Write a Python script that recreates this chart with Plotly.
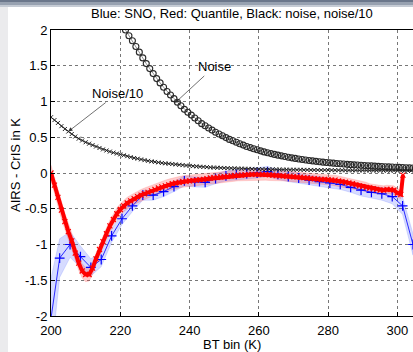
import plotly.graph_objects as go

# ---------------- data ----------------
red_x = list(range(200, 302)) + [301.6]
red_y = [0.0, -0.17, -0.34, -0.52, -0.68, -0.82, -0.95, -1.12, -1.26, -1.37,
         -1.42, -1.42, -1.33, -1.2, -1.07, -0.96, -0.85, -0.74, -0.65, -0.57,
         -0.51, -0.46, -0.42, -0.39, -0.36, -0.33, -0.31, -0.29, -0.27, -0.25,
         -0.23, -0.21, -0.195, -0.18, -0.165, -0.15, -0.14, -0.13, -0.12, -0.115,
         -0.11, -0.105, -0.1, -0.095, -0.09, -0.08, -0.07, -0.065, -0.06, -0.055,
         -0.05, -0.045, -0.04, -0.035, -0.03, -0.03, -0.025, -0.02, -0.02, -0.02,
         -0.02, -0.02, -0.02, -0.025, -0.03, -0.035, -0.04, -0.04, -0.045, -0.05,
         -0.05, -0.055, -0.06, -0.065, -0.07, -0.075, -0.08, -0.085, -0.09, -0.09,
         -0.095, -0.1, -0.1, -0.11, -0.12, -0.13, -0.14, -0.15, -0.165, -0.18,
         -0.19, -0.2, -0.21, -0.22, -0.23, -0.24, -0.24, -0.23, -0.23, -0.24,
         -0.28, -0.30, -0.03]
red_err = [0.11, 0.11, 0.12, 0.12, 0.12, 0.12, 0.11, 0.1, 0.1, 0.1,
           0.1, 0.09, 0.09, 0.08, 0.08, 0.08, 0.08, 0.08, 0.08, 0.08,
           0.08, 0.08, 0.08, 0.08, 0.08, 0.08, 0.08, 0.08, 0.08, 0.08,
           0.08, 0.08, 0.08, 0.08, 0.08, 0.08, 0.08, 0.08, 0.08, 0.08,
           0.08, 0.08, 0.08, 0.08, 0.08, 0.08, 0.08, 0.08, 0.08, 0.08,
           0.08, 0.08, 0.08, 0.08, 0.08, 0.08, 0.08, 0.08, 0.08, 0.08,
           0.08, 0.08, 0.08, 0.08, 0.08, 0.08, 0.07, 0.07, 0.07, 0.07,
           0.07, 0.07, 0.07, 0.07, 0.07, 0.07, 0.07, 0.07, 0.07, 0.07,
           0.07, 0.07, 0.07, 0.07, 0.07, 0.07, 0.07, 0.07, 0.07, 0.07,
           0.07, 0.07, 0.06, 0.06, 0.06, 0.06, 0.06, 0.06, 0.06, 0.06,
           0.06, 0.06, 0.04]

blue_x = [199.5, 202.5, 205.5, 208.5, 211.5, 214.5, 217.5, 220.5, 223.5, 226.5,
          229.5, 232.5, 235.5, 238.5, 241.5, 244.5, 247.5, 250.5, 253.5, 256.5,
          259.5, 262.5, 265.5, 268.5, 271.5, 274.5, 277.5, 280.5, 283.5, 286.5,
          289.5, 292.5, 295.5, 298.5, 301.5, 304.5]
blue_y = [-2.2, -1.19, -1.0, -1.17, -1.32, -1.21, -0.88, -0.64, -0.46, -0.31,
          -0.31, -0.26, -0.19, -0.11, -0.125, -0.13, -0.08, -0.04, -0.02, -0.01,
          0.0, 0.02, -0.02, -0.05, -0.07, -0.10, -0.12, -0.14, -0.16, -0.2,
          -0.24, -0.27, -0.29, -0.33, -0.46, -1.0]
blue_err = [0.62, 0.27, 0.18, 0.15, 0.12, 0.1, 0.09, 0.08, 0.08, 0.07,
            0.07, 0.07, 0.07, 0.07, 0.07, 0.07, 0.07, 0.07, 0.07, 0.07,
            0.07, 0.07, 0.07, 0.07, 0.07, 0.07, 0.07, 0.07, 0.07, 0.07,
            0.08, 0.08, 0.09, 0.1, 0.12, 0.15]

noise_x = [221.5 + i for i in range(84)]
noise_y = [2.0, 1.92, 1.85, 1.77, 1.69, 1.61, 1.53, 1.46, 1.39, 1.32,
           1.26, 1.2, 1.14, 1.09, 1.04, 0.99, 0.94, 0.89, 0.85, 0.81,
           0.77, 0.73, 0.69, 0.66, 0.63, 0.6, 0.57, 0.545, 0.52, 0.495,
           0.47, 0.45, 0.43, 0.41, 0.39, 0.37, 0.355, 0.34, 0.325, 0.31,
           0.295, 0.283, 0.271, 0.26, 0.25, 0.24, 0.23, 0.22, 0.212, 0.204,
           0.196, 0.189, 0.182, 0.175, 0.169, 0.163, 0.157, 0.152, 0.147, 0.142,
           0.138, 0.133, 0.129, 0.125, 0.121, 0.117, 0.114, 0.111, 0.108, 0.105,
           0.102, 0.099, 0.096, 0.093, 0.09, 0.088, 0.085, 0.083, 0.08, 0.078,
           0.076, 0.074, 0.072, 0.07]

noise10_x = list(range(200, 306))
noise10_y = [0.78, 0.74, 0.70, 0.655, 0.615, 0.58, 0.545, 0.51, 0.48, 0.455,
             0.43, 0.41, 0.39, 0.37, 0.35, 0.33, 0.315, 0.30, 0.285, 0.272,
             0.26, 0.247, 0.235, 0.222, 0.21, 0.2, 0.19, 0.18, 0.17, 0.162,
             0.155, 0.148, 0.14, 0.135, 0.13, 0.125, 0.12, 0.115, 0.11, 0.105,
             0.1, 0.096, 0.092, 0.088, 0.085, 0.082, 0.079, 0.076, 0.074, 0.072,
             0.07, 0.068, 0.066, 0.064, 0.062, 0.061, 0.06, 0.058, 0.057, 0.056,
             0.055, 0.054, 0.053, 0.052, 0.051, 0.05, 0.049, 0.048, 0.047, 0.046,
             0.046, 0.045, 0.045, 0.044, 0.043, 0.043, 0.042, 0.042, 0.041, 0.041,
             0.04, 0.04, 0.039, 0.039, 0.038, 0.038, 0.037, 0.037, 0.037, 0.036,
             0.036, 0.036, 0.035, 0.035, 0.035, 0.034, 0.034, 0.033, 0.033, 0.033,
             0.032, 0.032, 0.031, 0.031, 0.031, 0.03]

x_ticks = [200, 220, 240, 260, 280, 300]
y_ticks = [-2, -1.5, -1, -0.5, 0, 0.5, 1, 1.5, 2]
y_tick_text = ["-2", "-1.5", "-1", "-0.5", "0", "0.5", "1", "1.5", "2"]

title_text = "Blue: SNO, Red: Quantile, Black: noise, noise/10"
x_title = "BT bin (K)"
y_title = "AIRS - CrIS in K"

FONT = "Liberation Sans, Arial, Helvetica, sans-serif"

# ---------------- figure ----------------
fig = go.Figure()

# blue band
b_up = [y + e for y, e in zip(blue_y, blue_err)]
b_lo = [y - e for y, e in zip(blue_y, blue_err)]
fig.add_trace(go.Scatter(x=blue_x + blue_x[::-1], y=b_up + b_lo[::-1],
                         fill="toself", fillcolor="rgba(70,90,255,0.22)",
                         line=dict(color="rgba(70,90,255,0.35)", width=0.5),
                         mode="lines", hoverinfo="skip", showlegend=False))
# red band
r_up = [y + e for y, e in zip(red_y, red_err)]
r_lo = [y - e for y, e in zip(red_y, red_err)]
fig.add_trace(go.Scatter(x=red_x + red_x[::-1], y=r_up + r_lo[::-1],
                         fill="toself", fillcolor="rgba(255,70,70,0.28)",
                         line=dict(color="rgba(255,70,70,0.35)", width=0.5),
                         mode="lines", hoverinfo="skip", showlegend=False))
# blue line
fig.add_trace(go.Scatter(x=blue_x, y=blue_y, mode="lines+markers",
                         line=dict(color="#2a2aff", width=1),
                         marker=dict(symbol="cross-thin", size=7,
                                     line=dict(color="#0000ff", width=1.2)),
                         showlegend=False))
# red line
fig.add_trace(go.Scatter(x=red_x, y=red_y, mode="lines+markers",
                         line=dict(color="#ff0000", width=4),
                         marker=dict(symbol="x-thin", size=5,
                                     line=dict(color="#ff0000", width=1.2)),
                         showlegend=False))
# noise
fig.add_trace(go.Scatter(x=noise_x, y=noise_y, mode="lines+markers",
                         line=dict(color="#444444", width=0.6),
                         marker=dict(symbol="circle-open", size=6, color="#2a2a2a",
                                     line=dict(color="#2a2a2a", width=1.1)),
                         showlegend=False))
# noise / 10
fig.add_trace(go.Scatter(x=noise10_x, y=noise10_y, mode="lines+markers",
                         line=dict(color="#222222", width=0.8),
                         marker=dict(symbol="x-thin", size=4,
                                     line=dict(color="#222222", width=1)),
                         showlegend=False))

fig.update_layout(
    width=413, height=352,
    margin=dict(l=51, r=0, t=30, b=36, autoexpand=False),
    paper_bgcolor="white", plot_bgcolor="white",
    font=dict(family=FONT, size=13, color="black"),
    showlegend=False,
    xaxis=dict(range=[200, 304.5], tickvals=x_ticks, ticktext=[str(v) for v in x_ticks],
               showgrid=True, gridcolor="#777777", griddash="dot", gridwidth=1,
               zeroline=False, showline=True, linecolor="black", linewidth=1,
               mirror=True, ticks="inside", ticklen=4, tickcolor="black",
               tickfont=dict(size=13), automargin=False, ticklabelstandoff=2),
    yaxis=dict(range=[-2, 2], tickvals=y_ticks, ticktext=y_tick_text,
               showgrid=True, gridcolor="#777777", griddash="dot", gridwidth=1,
               zeroline=False, showline=True, linecolor="black", linewidth=1,
               mirror=True, ticks="inside", ticklen=4, tickcolor="black",
               tickfont=dict(size=13), automargin=False),
    annotations=[
        dict(text=title_text, xref="paper", yref="paper", x=0.5, y=1.056,
             showarrow=False, font=dict(size=13), xanchor="center", yanchor="middle"),
        dict(text=x_title, xref="paper", yref="paper", x=0.5, y=-0.098,
             showarrow=False, font=dict(size=13), xanchor="center", yanchor="middle"),
        dict(text=y_title, xref="paper", yref="paper", x=-0.0967, y=0.528,
             showarrow=False, font=dict(size=13), textangle=-90,
             xanchor="center", yanchor="middle"),
        dict(text="Noise", x=235.8, y=0.98, xref="x", yref="y",
             showarrow=True, ax=39, ay=-36, arrowhead=2, arrowsize=1.2,
             arrowwidth=0.7, arrowcolor="#333333", font=dict(size=13)),
        dict(text="Noise/10", x=205.0, y=0.58, xref="x", yref="y",
             showarrow=True, ax=49, ay=-38, arrowhead=2, arrowsize=1.2,
             arrowwidth=0.7, arrowcolor="#333333", font=dict(size=13)),
    ],
    shapes=[
        # left grey strip of the slide background
        dict(type="rect", xref="paper", yref="paper", x0=-0.1409, x1=-0.1188,
             y0=-0.2, y1=1.09, fillcolor="#ebebed", line=dict(width=0), layer="below"),
        # top gradient bar
        dict(type="rect", xref="paper", yref="paper", x0=-0.15, x1=1.05,
             y0=1.0979, y1=1.11, fillcolor="#6b778b", line=dict(width=0)),
        dict(type="rect", xref="paper", yref="paper", x0=-0.15, x1=1.05,
             y0=1.0874, y1=1.0979, fillcolor="#97a1b0", line=dict(width=0)),
        dict(type="rect", xref="paper", yref="paper", x0=-0.15, x1=1.05,
             y0=1.0804, y1=1.0874, fillcolor="#c5cbd4", line=dict(width=0)),
    ],
)

fig.write_html("out.html", config={"displayModeBar": False},
               post_script="document.body.style.margin='0';document.body.style.overflow='hidden';")
